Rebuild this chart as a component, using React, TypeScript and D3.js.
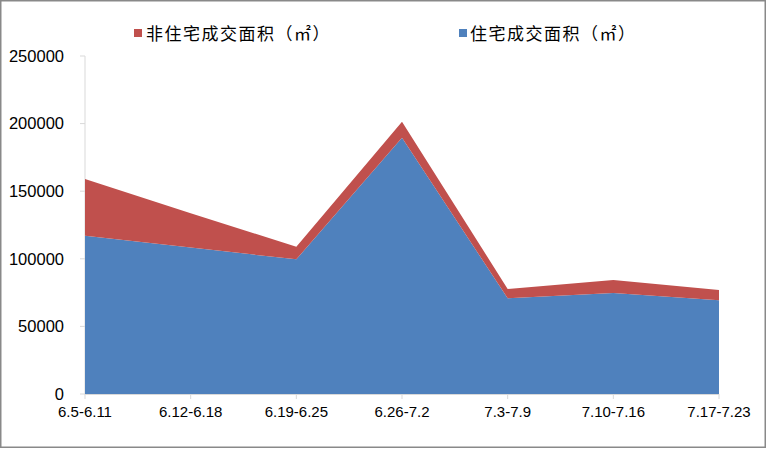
import React from "react";
import * as d3 from "d3";

const categories = ["6.5-6.11", "6.12-6.18", "6.19-6.25", "6.26-7.2", "7.3-7.9", "7.10-7.16", "7.17-7.23"];
const residential = [117000, 108300, 99600, 189600, 70800, 74700, 69300];
const nonResidential = [42000, 25400, 9400, 11800, 6900, 9600, 7600];
const yTicks = [0, 50000, 100000, 150000, 200000, 250000];
const seriesNames = ["非住宅成交面积（㎡）", "住宅成交面积（㎡）"];
const colors = { res: "#4F81BD", non: "#C0504D" };

export default function App() {
  const W = 767, H = 449;
  const x = d3.scalePoint<string>().domain(categories).range([85, 719]);
  const y = d3.scaleLinear().domain([0, 250000]).range([394, 56]);
  const rows = categories.map((c, i) => ({ c, res: residential[i], non: nonResidential[i] }));
  const stack = d3.stack<any>().keys(["res", "non"])(rows);
  const area = d3.area<any>()
    .x((d) => x(d.data.c)!)
    .y0((d) => y(d[0]))
    .y1((d) => y(d[1]));
  const axisColor = "#d9d9d9";
  return (
    <svg width={W} height={H} style={{ position: "fixed", left: 0, top: 0, background: "#fff" }}>
      <rect x={0.75} y={0.75} width={W - 2.5} height={H - 2.5} fill="#fff" stroke="#898989" strokeWidth={1.5} />
      {/* y axis */}
      <line x1={85} x2={85} y1={56} y2={394} stroke={axisColor} />
      {yTicks.map((t) => (
        <g key={t}>
          <line x1={80} x2={85} y1={y(t)} y2={y(t)} stroke={axisColor} />
          <text x={64} y={y(t)} dy="0.35em" textAnchor="end" fontFamily="Liberation Sans, Arial, sans-serif" fontSize={16.5} fill="#000">
            {t}
          </text>
        </g>
      ))}
      {/* areas */}
      <path d={area(stack[0] as any) || ""} fill={colors.res} />
      <path d={area(stack[1] as any) || ""} fill={colors.non} />
      {/* x axis */}
      <line x1={85} x2={719} y1={394.5} y2={394.5} stroke={axisColor} />
      {categories.map((c) => (
        <g key={c}>
          <line x1={x(c)!} x2={x(c)!} y1={394} y2={399} stroke={axisColor} />
          <text x={x(c)!} y={417} textAnchor="middle" fontFamily="Liberation Sans, Arial, sans-serif" fontSize={15} fill="#000">
            {c}
          </text>
        </g>
      ))}
      {/* legend */}
      <rect x={134} y={29} width={8} height={8} fill={colors.non} />
      <text x={146} y={40} fontFamily="Noto Sans CJK SC, sans-serif" fontSize={17} letterSpacing={1.5} fill="#000">{seriesNames[0]}</text>
      <rect x={459} y={29} width={8} height={8} fill={colors.res} />
      <text x={470} y={40} fontFamily="Noto Sans CJK SC, sans-serif" fontSize={17} letterSpacing={1.5} fill="#000">{seriesNames[1]}</text>
    </svg>
  );
}
